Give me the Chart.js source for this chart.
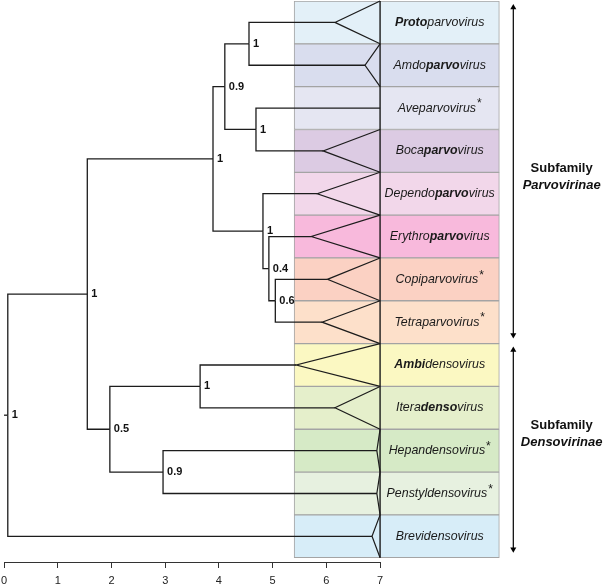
<!DOCTYPE html>
<html>
<head>
<meta charset="utf-8">
<script src="https://cdn.jsdelivr.net/npm/chart.js@4.4.1/dist/chart.umd.min.js"></script>
<style>
  html, body { margin: 0; padding: 0; background: #fff; }
  #wrap { width: 610px; height: 586px; }
</style>
</head>
<body>
<div id="wrap"><canvas id="tree"></canvas></div>
<script>
// genera, one row each, top to bottom
const genera = ['Protoparvovirus', 'Amdoparvovirus', 'Aveparvovirus', 'Bocaparvovirus',
    'Dependoparvovirus', 'Erythroparvovirus', 'Copiparvovirus', 'Tetraparvovirus',
    'Ambidensovirus', 'Iteradensovirus', 'Hepandensovirus', 'Penstyldensovirus', 'Brevidensovirus'];
const boldPart = ['Proto', 'parvo', '', 'parvo', 'parvo', 'parvo', '', '', 'Ambi', 'denso', '', '', ''];
const newGenus = [false, false, true, false, false, false, true, true, false, false, true, true, false];
const rowColors = ['#e3f0f8', '#d9ddee', '#e5e6f2', '#dccbe3', '#f2d7ea', '#f8b9dc', '#fbd1c3',
    '#fde0ca', '#fbf8c2', '#e5efcb', '#d6eac6', '#e7f1e0', '#d7edf8'];

// depth where each clade triangle opens (7 = single lineage, plain branch)
const tipDepth = [6.16, 6.72, 7, 5.94, 5.83, 5.72, 6.02, 5.92, 5.44, 6.16, 6.94, 6.94, 6.85];

// internal nodes: depth, support, children (number = genus row, string = node)
const nodeIds = ['root', 'A', 'E', 'P', 'Q', 'R', 'F', 'G', 'H', 'B', 'C', 'D'];
const nodeDepth = [0.07, 1.55, 3.89, 4.11, 4.56, 4.69, 4.82, 4.93, 5.05, 1.97, 3.65, 2.96];
const nodeSupport = ['1', '1', '1', '0.9', '1', '1', '1', '0.4', '0.6', '0.5', '1', '0.9'];
const nodeKids = [['A', 12], ['E', 'B'], ['P', 'F'], ['Q', 'R'], [0, 1], [2, 3], [4, 'G'], [5, 'H'],
    [6, 7], ['C', 'D'], [8, 9], [10, 11]];

const xTicks = [0, 1, 2, 3, 4, 5, 6, 7];

const subfamilies = ['Parvovirinae', 'Densovirinae'];
const subfamilyRows = [[0, 8], [8, 13]];
const subfamilyLabelRow = [4.1, 10.1];

const treeDepth = 7;
const boxLeft = 5.4, boxRight = 9.22, arrowX = 9.48, subLabelX = 10.38;
const FONT = "'Liberation Sans', Arial, sans-serif";

// helpers to walk the tree
function nodeIndex(id) { return nodeIds.indexOf(id); }
function kidY(k) {
    if (typeof k === 'number') return k + 0.5;
    const n = nodeIndex(k);
    return (kidY(nodeKids[n][0]) + kidY(nodeKids[n][1])) / 2;
}
function kidDepth(k) {
    return typeof k === 'number' ? tipDepth[k] : nodeDepth[nodeIndex(k)];
}

function lineSet(points, extra) {
    return Object.assign({
        type: 'line',
        data: points,
        borderColor: '#1c1c1c',
        borderWidth: 1.3,
        pointRadius: 0,
        tension: 0,
        fill: false,
        clip: false,
        order: 1
    }, extra || {});
}

const datasets = [];

// genus boxes
datasets.push({
    type: 'bar',
    indexAxis: 'y',
    data: genera.map((g, i) => ({ x: [boxLeft, boxRight], y: i + 0.5 })),
    backgroundColor: rowColors,
    borderColor: '#a4a4a4',
    borderWidth: 1,
    borderSkipped: false,
    barPercentage: 1,
    categoryPercentage: 1,
    order: 10
});

// root stem
const rootY = kidY('root');
datasets.push(lineSet([{ x: 0, y: rootY }, { x: nodeDepth[0], y: rootY }]));

// elbow branches
nodeIds.forEach((id, n) => {
    const ny = kidY(id);
    nodeKids[n].forEach(k => {
        const ky = kidY(k);
        datasets.push(lineSet([
            { x: nodeDepth[n], y: ny },
            { x: nodeDepth[n], y: ky },
            { x: kidDepth(k), y: ky }
        ]));
    });
});

// collapsed clade triangles
tipDepth.forEach((d, i) => {
    if (d >= treeDepth) return;
    datasets.push(lineSet([
        { x: treeDepth, y: i },
        { x: d, y: i + 0.5 },
        { x: treeDepth, y: i + 1 }
    ], { borderWidth: 1.2 }));
});

// line closing the triangles
datasets.push(lineSet([{ x: treeDepth, y: 0 }, { x: treeDepth, y: genera.length }], { borderWidth: 1.4 }));

// subfamily arrows
subfamilyRows.forEach(r => {
    datasets.push(lineSet([{ x: arrowX, y: r[0] + 0.15 }, { x: arrowX, y: r[1] - 0.2 }], {
        borderWidth: 1.2,
        borderColor: '#000',
        pointRadius: 3.5,
        pointStyle: 'triangle',
        pointRotation: [0, 180],
        pointBackgroundColor: '#000',
        pointBorderColor: '#000',
        pointBorderWidth: 0
    }));
});

function drawGenus(ctx, i, cx, cy) {
    const name = genera[i];
    const b = boldPart[i];
    const k = b ? name.indexOf(b) : -1;
    const parts = k < 0 ? [[name, false]]
        : [[name.slice(0, k), false], [b, true], [name.slice(k + b.length), false]];
    const fonts = { false: 'italic 12.4px ' + FONT, true: 'italic bold 12.4px ' + FONT };
    let w = 0;
    parts.forEach(p => { ctx.font = fonts[p[1]]; w += ctx.measureText(p[0]).width; });
    const starFont = '12px ' + FONT;
    ctx.font = starFont;
    const starW = newGenus[i] ? ctx.measureText('*').width + 1 : 0;
    let x = cx - (w + starW) / 2;
    ctx.textAlign = 'left';
    ctx.textBaseline = 'middle';
    parts.forEach(p => {
        ctx.font = fonts[p[1]];
        ctx.fillText(p[0], x, cy);
        x += ctx.measureText(p[0]).width;
    });
    if (newGenus[i]) {
        ctx.font = starFont;
        ctx.fillText('*', x + 1, cy - 4);
    }
}

const treeText = {
    id: 'treeText',
    afterDatasetsDraw(chart) {
        const ctx = chart.ctx;
        const xs = chart.scales.x, ys = chart.scales.y;
        ctx.save();
        ctx.fillStyle = '#111';

        // support values
        ctx.font = 'bold 11px ' + FONT;
        ctx.textAlign = 'left';
        ctx.textBaseline = 'middle';
        nodeIds.forEach((id, n) => {
            ctx.fillText(nodeSupport[n], xs.getPixelForValue(nodeDepth[n]) + 4, ys.getPixelForValue(kidY(id)));
        });

        // genus names
        ctx.fillStyle = '#1a1a1a';
        const cx = (xs.getPixelForValue(treeDepth) + xs.getPixelForValue(boxRight)) / 2;
        genera.forEach((g, i) => drawGenus(ctx, i, cx, ys.getPixelForValue(i + 0.5)));

        // subfamily labels
        ctx.fillStyle = '#111';
        ctx.textAlign = 'center';
        const sx = xs.getPixelForValue(subLabelX);
        subfamilies.forEach((s, j) => {
            const sy = ys.getPixelForValue(subfamilyLabelRow[j]);
            ctx.font = 'bold 13px ' + FONT;
            ctx.fillText('Subfamily', sx, sy - 8);
            ctx.font = 'italic bold 13px ' + FONT;
            ctx.fillText(s, sx, sy + 9);
        });

        // scale bar line, only over the tree
        ctx.strokeStyle = '#333';
        ctx.lineWidth = 1;
        ctx.beginPath();
        const ay = Math.round(xs.top) + 0.5;
        ctx.moveTo(xs.getPixelForValue(xTicks[0]), ay);
        ctx.lineTo(xs.getPixelForValue(xTicks[xTicks.length - 1]), ay);
        ctx.stroke();
        ctx.restore();
    }
};

new Chart(document.getElementById('tree'), {
    type: 'scatter',
    data: { datasets: datasets },
    options: {
        responsive: true,
        maintainAspectRatio: false,
        animation: false,
        events: [],
        layout: { autoPadding: false, padding: { left: 0, top: 1, right: 0, bottom: 0 } },
        plugins: {
            legend: { display: false },
            tooltip: { enabled: false }
        },
        scales: {
            x: {
                type: 'linear',
                min: -0.075,
                max: 11.28,
                offset: false,
                afterBuildTicks: s => { s.ticks = xTicks.map(v => ({ value: v })); },
                afterFit: s => { s.height = 24; s.paddingLeft = 0; s.paddingRight = 0; },
                ticks: {
                    font: { family: FONT, size: 11 },
                    color: '#222',
                    padding: 6,
                    maxRotation: 0,
                    autoSkip: false
                },
                grid: {
                    drawOnChartArea: false,
                    drawTicks: true,
                    tickLength: 6,
                    color: '#333'
                },
                border: { display: false }
            },
            y: {
                type: 'linear',
                display: false,
                reverse: true,
                min: 0,
                max: 13.1,
                offset: false
            }
        }
    },
    plugins: [treeText]
});
</script>
</body>
</html>
